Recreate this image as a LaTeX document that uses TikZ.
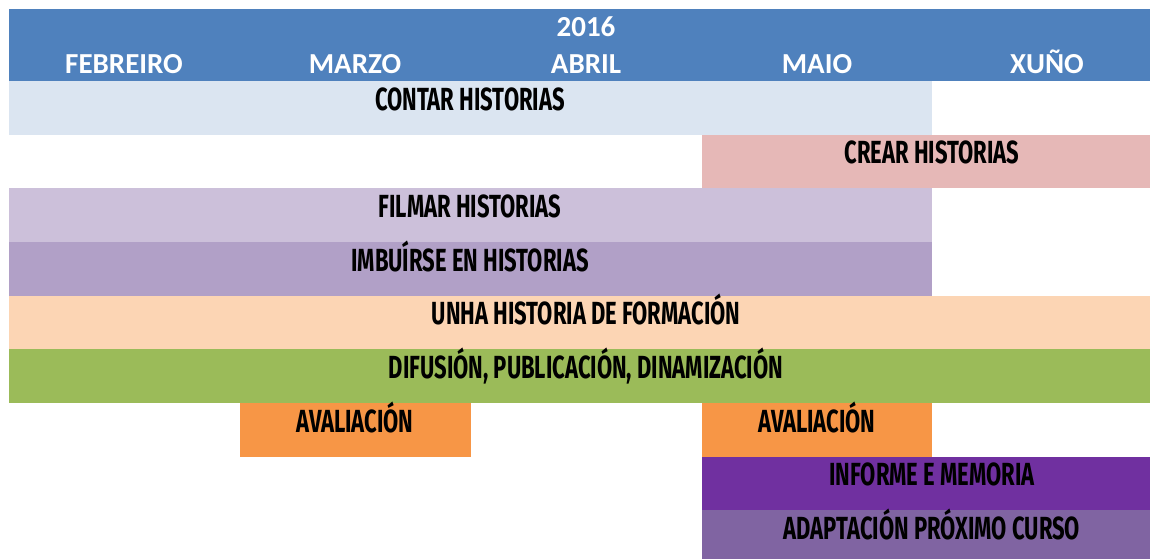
\documentclass[tikz,border=0pt]{standalone}
\usepackage{fontspec}
\setmainfont{Carlito}
\newfontfamily\barfont{Fira Sans}
\definecolor{hdr}{HTML}{4F81BD}
\definecolor{cContar}{HTML}{DBE5F1}
\definecolor{cCrear}{HTML}{E6B8B7}
\definecolor{cFilmar}{HTML}{CCC0DA}
\definecolor{cImbuir}{HTML}{B1A0C7}
\definecolor{cUnha}{HTML}{FCD5B4}
\definecolor{cDifus}{HTML}{9BBB59}
\definecolor{cAval}{HTML}{F79646}
\definecolor{cInforme}{HTML}{7030A0}
\definecolor{cAdapt}{HTML}{8064A2}
\tikzset{
  hdrtext/.style={text=white, font=\fontsize{29}{33}\selectfont\bfseries, anchor=base, inner sep=0pt},
  bartext/.style={text=black, font=\barfont\fontsize{25}{28}\selectfont\bfseries, inner sep=0pt, anchor=base, xscale=0.88, yscale=1.28},
}
\begin{document}
\begin{tikzpicture}[x=1pt,y=-1pt]
\clip (0,0) rectangle (1150,558);
\fill[white] (0,0) rectangle (1150,558);
% header
\fill[hdr] (9,9) rectangle (1163,81);
\node[hdrtext] (year) at (586,36) {2016};
\node[hdrtext] (feb) at (124,73) {FEBREIRO};
\node[hdrtext] (mar) at (355,73) {MARZO};
\node[hdrtext] (abr) at (586,73) {ABRIL};
\node[hdrtext] (mai) at (817,73) {MAIO};
\node[hdrtext] (xun) at (1047,73) {XUÑO};
% bars
\fill[cContar] (9,81) rectangle (932,135);
\node[bartext] (contar) at (470,110) {CONTAR HISTORIAS};
\fill[cCrear] (702,135) rectangle (1163,188);
\node[bartext] (crear) at (932,163) {CREAR HISTORIAS};
\fill[cFilmar] (9,188) rectangle (932,242);
\node[bartext] (filmar) at (470,217) {FILMAR HISTORIAS};
\fill[cImbuir] (9,242) rectangle (932,296);
\node[bartext] (imbuir) at (470,271) {IMBUÍRSE EN HISTORIAS};
\fill[cUnha] (9,296) rectangle (1163,349);
\node[bartext] (unha) at (586,324) {UNHA HISTORIA DE FORMACIÓN};
\fill[cDifus] (9,349) rectangle (1163,403);
\node[bartext] (difus) at (586,378) {DIFUSIÓN, PUBLICACIÓN, DINAMIZACIÓN};
\fill[cAval] (240,403) rectangle (471,457);
\node[bartext] (aval1) at (355,432) {AVALIACIÓN};
\fill[cAval] (702,403) rectangle (932,457);
\node[bartext] (aval2) at (817,432) {AVALIACIÓN};
\fill[cInforme] (702,457) rectangle (1163,510);
\node[bartext] (informe) at (932,485) {INFORME E MEMORIA};
\fill[cAdapt] (702,510) rectangle (1163,564);
\node[bartext] (adapt) at (932,539) {ADAPTACIÓN PRÓXIMO CURSO};
\end{tikzpicture}
\end{document}
